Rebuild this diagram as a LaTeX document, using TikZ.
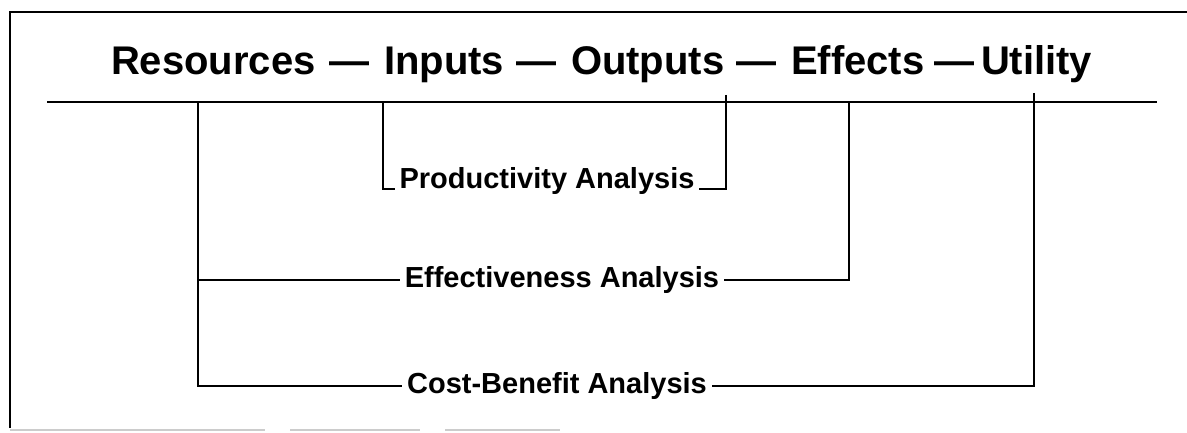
\documentclass[tikz,border=0pt]{standalone}
\usepackage{fontspec}
\setmainfont{Liberation Sans}
\begin{document}
\begin{tikzpicture}[x=1pt, y=-1pt, line width=2pt,
  every node/.style={inner sep=0pt},
  stage/.style={anchor=base west, font=\fontsize{40}{44}\selectfont\bfseries},
  study/.style={anchor=base, inner xsep=4pt, font=\fontsize{29}{32}\selectfont\bfseries}]
  \useasboundingbox (0,0) rectangle (1187,433);
  % frame
  \draw[line width=2.5pt] (1187,12) -- (10,12) -- (10,428);
  \draw[gray!40, line width=2pt, dash pattern=on 255pt off 25pt on 130pt off 25pt on 115pt off 60pt] (10,430) -- (560,430);
  % the chain of stages
  \node[stage] (res) at (110,75) {Resources};
  \node[stage] (d1)  at (328,75) {—};
  \node[stage] (inp) at (383,75) {Inputs};
  \node[stage] (d2)  at (515,75) {—};
  \node[stage] (out) at (570,75) {Outputs};
  \node[stage] (d3)  at (735,75) {—};
  \node[stage] (eft) at (790,75) {Effects};
  \node[stage] (d4)  at (933,75) {—};
  \node[stage] (uti) at (980,75) {Utility};
  \coordinate (sl) at (47,102);
  \coordinate (sr) at (1157,102);
  \draw[line width=2.5pt] (sl) -- (sr);
  % kinds of analysis
  \node[study] (prod) at (547,189) {Productivity Analysis};
  \node[study] (eff)  at (562,287) {Effectiveness Analysis};
  \node[study] (cost) at (557,393) {Cost-Benefit Analysis};
  % taps on the line
  \coordinate (rtap) at (198,102);
  \coordinate (itap) at (383,102);
  \coordinate (otap) at (726,95);
  \coordinate (etap) at (849,102);
  \coordinate (utap) at (1034,93);
  \draw (rtap) |- (cost.west);
  \draw (rtap |- eff.west) -- (eff.west);
  \draw (itap) |- (prod.base west);
  \draw (otap) |- (prod.base east);
  \draw (etap) |- (eff.east);
  \draw (utap) |- (cost.east);
\end{tikzpicture}
\end{document}
